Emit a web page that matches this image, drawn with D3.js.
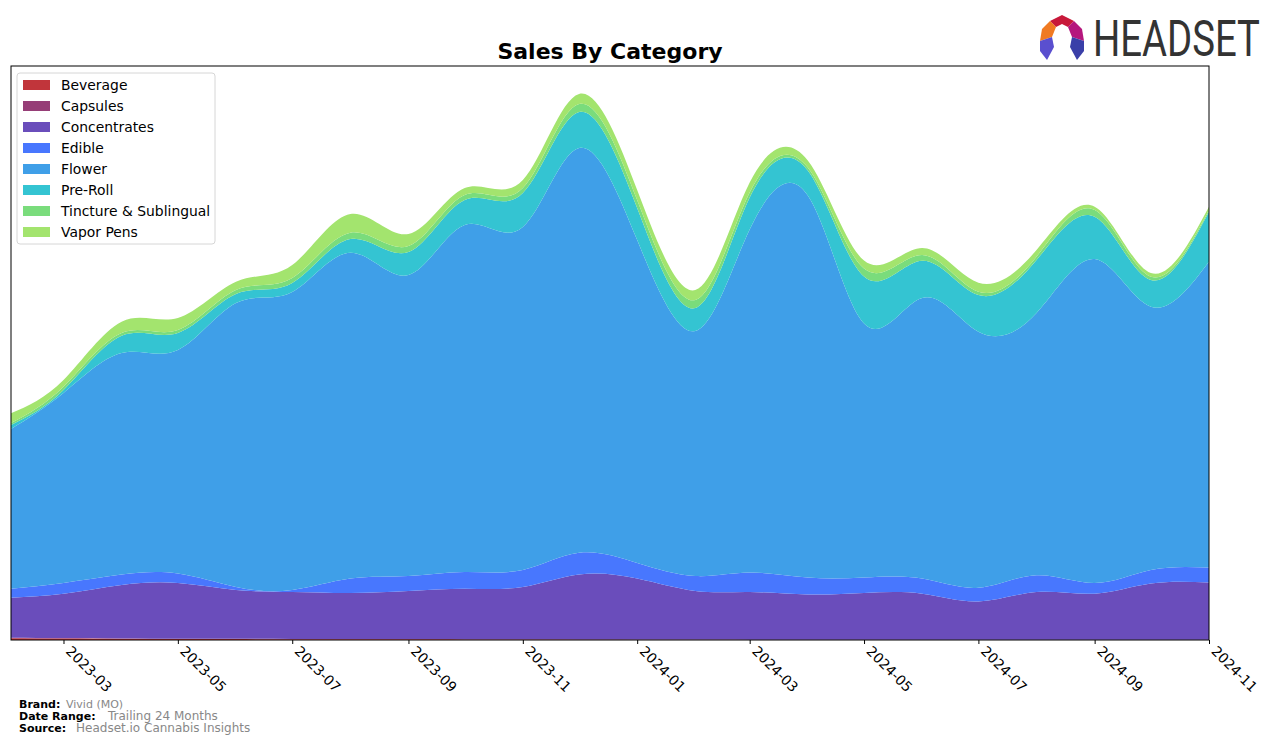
<!DOCTYPE html>
<html>
<head>
<meta charset="utf-8">
<script src="https://cdn.jsdelivr.net/npm/d3@7"></script>
<style>
  body { margin: 0; background: #fff; }
  svg { font-family: "DejaVu Sans", sans-serif; }
</style>
</head>
<body>
<div class="chart"></div>
<script>
// data (arbitrary sales units, no y ticks shown)
var months = ["2023-02","2023-03","2023-04","2023-05","2023-06","2023-07","2023-08","2023-09","2023-10","2023-11","2023-12",
  "2024-01","2024-02","2024-03","2024-04","2024-05","2024-06","2024-07","2024-08","2024-09","2024-10","2024-11"];
var categories = ["Beverage","Capsules","Concentrates","Edible","Flower","Pre-Roll","Tincture & Sublingual","Vapor Pens"];
var beverage = [1.8,1.5,1.2,1.0,0.9,0.8,0.8,0.7,0.6,0.5,0.4,0.3,0.3,0.2,0.2,0.2,0.1,0.1,0.1,0.1,0.1,0.1];
var capsules = [0.5,0.4,0.4,0.3,0.3,0.3,0.2,0.2,0.2,0.2,0.2,0.1,0.1,0.1,0.1,0.1,0.1,0.1,0.1,0.1,0.1,0.1];
var concentrates = [40.0,44.4,53.4,55.7,48.8,46.9,46.0,48.1,50.5,52.3,64.8,61.0,48.6,47.7,45.3,46.7,46.1,38.4,47.8,46.1,56.2,57.2];
var edible = [9.0,10.7,10.4,9.4,3.0,2.0,14.4,15.0,16.7,17.0,21.8,15.6,15.0,19.4,16.8,15.4,15.1,13.7,16.8,10.7,13.6,15.1];
var flower = [159.7,190,221.6,223.6,284,298,325.9,301,347,343,404.8,323,245,343,382,254,280.6,256,262.2,324,263.3,305.8];
var preRoll = [4,3,17.3,17,9,9,13.7,23,25,34,36,32,23,32,25,47,37.3,36.7,53,42.3,26.7,50];
var tincture = [2,3.3,2.7,3,4,5,6.3,6,5,5,8,8,8,5,3,8,5.7,3.3,3.3,6.7,3.3,1.7];
var vaporPens = [9.7,6.7,11.3,12,8.3,13,18.7,12,7,8,10,10,10,10,7,8,7,9,6.7,3.3,3.7,3.3];
var colors = ["#c1353b","#963e77","#6a4dbb","#4877fe","#3f9fe8","#34c4d2","#7adc7c","#a3e46e"];
var tickMonths = ["2023-03","2023-05","2023-07","2023-09","2023-11","2024-01","2024-03","2024-05","2024-07","2024-09","2024-11"];

var svgWidth = 1276;
var svgHeight = 745;
var plot = { left: 11, top: 66, right: 1209, bottom: 640 };

var parseMonth = d3.timeParse("%Y-%m");
var series = [beverage, capsules, concentrates, edible, flower, preRoll, tincture, vaporPens];

var rows = months.map(function(m, i) {
  var row = { date: parseMonth(m) };
  categories.forEach(function(c, j) { row[c] = series[j][i]; });
  return row;
});

var svg = d3.select(".chart").append("svg")
  .attr("width", svgWidth)
  .attr("height", svgHeight);

var x = d3.scaleTime()
  .domain([parseMonth(months[0]), parseMonth(months[months.length - 1])])
  .range([plot.left, plot.right]);
var y = d3.scaleLinear()
  .domain([0, 574])
  .range([plot.bottom, plot.top]);

var stacked = d3.stack().keys(categories)(rows);

var area = d3.area()
  .curve(d3.curveNatural)
  .x(function(d) { return x(d.data.date); })
  .y0(function(d) { return y(d[0]); })
  .y1(function(d) { return y(d[1]); });

svg.append("clipPath").attr("id", "plotclip")
  .append("rect")
  .attr("x", plot.left).attr("y", plot.top)
  .attr("width", plot.right - plot.left).attr("height", plot.bottom - plot.top);

svg.append("g").attr("clip-path", "url(#plotclip)")
  .selectAll("path")
  .data(stacked)
  .enter()
  .append("path")
  .attr("d", area)
  .attr("fill", function(d, i) { return colors[i]; });

// frame
svg.append("rect")
  .attr("x", plot.left).attr("y", plot.top)
  .attr("width", plot.right - plot.left).attr("height", plot.bottom - plot.top)
  .attr("fill", "none").attr("stroke", "#000").attr("stroke-width", 1);

// x axis
var xAxis = d3.axisBottom(x)
  .tickValues(tickMonths.map(parseMonth))
  .tickFormat(d3.timeFormat("%Y-%m"))
  .tickSizeInner(4)
  .tickSizeOuter(0);

var axisG = svg.append("g")
  .attr("transform", "translate(0," + plot.bottom + ")")
  .call(xAxis);
axisG.select(".domain").remove();
axisG.selectAll("line").attr("stroke", "#000");
axisG.selectAll("text")
  .attr("x", 0).attr("y", 0).attr("dy", 0)
  .attr("transform", "translate(1,12) rotate(45)")
  .style("text-anchor", "start")
  .style("font-size", "13.9px")
  .style("font-family", "DejaVu Sans, sans-serif")
  .attr("fill", "#000");

// title
svg.append("text")
  .attr("x", (plot.left + plot.right) / 2)
  .attr("y", 59)
  .attr("text-anchor", "middle")
  .style("font-size", "22px")
  .style("font-weight", "bold")
  .text("Sales By Category");

// legend
var legend = svg.append("g").attr("transform", "translate(17,73)");
legend.append("rect")
  .attr("width", 198).attr("height", 171)
  .attr("rx", 3)
  .attr("fill", "#fff").attr("fill-opacity", 0.8)
  .attr("stroke", "#d6d6d6");
categories.forEach(function(c, i) {
  var row = legend.append("g").attr("transform", "translate(0," + (12 + i * 21) + ")");
  row.append("rect")
    .attr("x", 6).attr("y", -5)
    .attr("width", 27).attr("height", 10)
    .attr("fill", colors[i]);
  row.append("text")
    .attr("x", 44).attr("y", 5)
    .style("font-size", "13.9px")
    .attr("fill", "#000")
    .text(c);
});

// footer
var footer = [
  { label: "Brand:", value: "Vivid (MO)", y: 708, vx: 66, vs: "11px" },
  { label: "Date Range:", value: "Trailing 24 Months", y: 720, vx: 108, vs: "12px" },
  { label: "Source:", value: "Headset.io Cannabis Insights", y: 732, vx: 76, vs: "12px" }
];
footer.forEach(function(f) {
  svg.append("text").attr("x", 19).attr("y", f.y)
    .style("font-size", "11px").style("font-weight", "bold")
    .text(f.label);
  svg.append("text").attr("x", f.vx).attr("y", f.y)
    .style("font-size", f.vs).attr("fill", "#888")
    .text(f.value);
});

// logo
var logo = svg.append("g").attr("transform", "translate(1038,15)");
logo.append("polygon").attr("points", "12,6 24,0 36,6 30,12 24,9 18,12").attr("fill", "#c8193a");
logo.append("polygon").attr("points", "12,6 18,12 14,22 2,26 4,14").attr("fill", "#f07a22");
logo.append("polygon").attr("points", "36,6 44,14 46,26 34,22 30,12").attr("fill", "#b5177d");
logo.append("polygon").attr("points", "2,26 14,22 16,32 9,45 2,36").attr("fill", "#5a4fcf");
logo.append("polygon").attr("points", "46,26 34,22 32,32 39,45 46,36").attr("fill", "#3a3fa8");
var logoText = svg.append("text")
  .attr("x", 0).attr("y", 0)
  .style("font-family", "Roboto, sans-serif")
  .style("font-size", "50px")
  .attr("fill", "#333")
  .text("HEADSET");
var natural = logoText.node().getComputedTextLength();
logoText.attr("transform", "translate(1093,56) scale(" + (167 / natural) + ",1)");
</script>
</body>
</html>
